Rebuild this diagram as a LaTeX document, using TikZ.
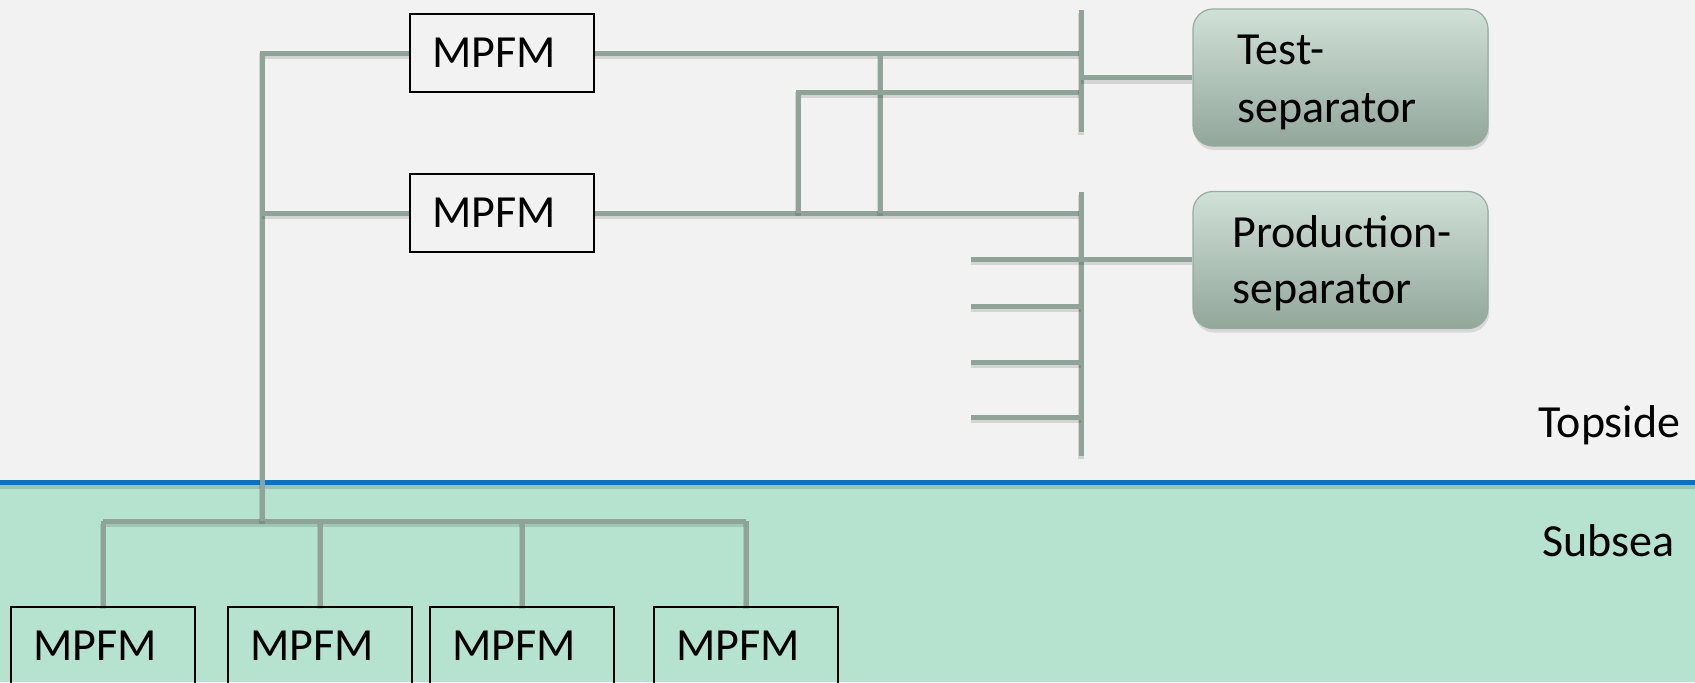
\documentclass[tikz,border=0pt]{standalone}
\usepackage{fontspec}
\setmainfont{Carlito}
\usetikzlibrary{shadows}
\definecolor{pipe}{RGB}{143,163,152}
\definecolor{topbg}{RGB}{242,242,242}
\definecolor{seabg}{RGB}{181,227,208}
\definecolor{surface}{RGB}{16,112,192}
\definecolor{septop}{RGB}{208,225,215}
\definecolor{sepbot}{RGB}{146,166,154}
\definecolor{sepline}{RGB}{150,172,160}
\begin{document}
\begin{tikzpicture}[x=0.5pt,y=-0.5pt,
  pipe/.style={draw=pipe, line width=2.5pt,
    preaction={draw=black, draw opacity=0.12, line width=3pt,
      transform canvas={yshift=-1.6pt}}},
  meter/.style={draw=black, line width=0.75pt, text width=70pt,
    inner xsep=11pt, minimum height=39pt, align=left,
    font=\fontsize{23}{28}\selectfont},
  separator/.style={draw=sepline, line width=0.6pt, rounded corners=10pt,
    top color=septop, bottom color=sepbot,
    minimum width=147.5pt, minimum height=68.5pt,
    drop shadow={opacity=0.22, shadow xshift=0.6pt, shadow yshift=-2pt}},
  caption/.style={anchor=base west, inner sep=0pt,
    font=\fontsize{23}{28}\selectfont},
]
\useasboundingbox (0,0) rectangle (1695,682);
\clip (0,0) rectangle (1695,682);

% topside and subsea areas with the sea surface between them
\fill[topbg] (0,0) rectangle (1695,482);
\fill[seabg] (0,482) rectangle (1695,682);
\draw[black, draw opacity=0.15, line width=2pt] (0,486.5) -- (1695,486.5);
\draw[surface, line width=2.5pt] (0,482) -- (1695,482);

% meters
\node[meter] (m1) at (502,53) {MPFM};
\node[meter] (m2) at (502,213) {MPFM};
\node[meter] (s1) at (103,646) {MPFM};
\node[meter] (s2) at (320,646) {MPFM};
\node[meter] (s3) at (522,646) {MPFM};
\node[meter] (s4) at (746,646) {MPFM};

% separators
\node[separator] (ts) at (1340.5,77.5) {};
\node[separator] (ps) at (1340.5,260) {};
\node[caption] (tsA) at (1237,64) {Test-};
\node[caption] (tsB) at (1237,122) {separator};
\node[caption] (psA) at (1232,247) {Production-};
\node[caption] (psB) at (1232,303) {separator};

% zone labels
\node[caption] (topl) at (1538,437) {Topside};
\node[caption] (subl) at (1542,556) {Subsea};

% junction points
\coordinate (trunkTop) at (262,53);
\coordinate (trunkMid) at (262,213);
\coordinate (trunkBot) at (262,521);
\coordinate (hdrL) at (103,521);
\coordinate (hdrR) at (746,521);
\coordinate (bus1T) at (1081,10);
\coordinate (bus1B) at (1081,132);
\coordinate (bus2T) at (1081,192);
\coordinate (bus2B) at (1081,456);
\coordinate (x1T) at (880,53);
\coordinate (x1B) at (880,213);
\coordinate (x2B) at (798,213);
\coordinate (x2T) at (798,92);
\coordinate (stub1) at (971,259);
\coordinate (stub2) at (971,306);
\coordinate (stub3) at (971,362);
\coordinate (stub4) at (971,417);

% subsea gathering
\draw[pipe] (hdrL) -- (hdrR);
\draw[pipe] (hdrL) -- (s1.north);
\draw[pipe] (s2.north |- hdrL) -- (s2.north);
\draw[pipe] (s3.north |- hdrL) -- (s3.north);
\draw[pipe] (hdrR) -- (s4.north);

% riser and topside meters
\draw[pipe] (m1.west) -- (trunkTop) -- (trunkBot);
\draw[pipe] (trunkMid) -- (m2.west);
\draw[pipe] (m1.east) -- (bus1T |- m1.east);
\draw[pipe] (m2.east) -- (bus2T |- m2.east);
\draw[pipe] (x1T) -- (x1B);
\draw[pipe] (x2B) -- (x2T) -- (bus1T |- x2T);

% test manifold
\draw[pipe] (bus1T) -- (bus1B);
\draw[pipe] (bus1T |- ts.west) -- (ts.west);

% production manifold
\draw[pipe] (bus2T) -- (bus2B);
\draw[pipe] (stub1) -- (ps.west |- stub1);
\draw[pipe] (stub2) -- (bus2T |- stub2);
\draw[pipe] (stub3) -- (bus2T |- stub3);
\draw[pipe] (stub4) -- (bus2T |- stub4);
\end{tikzpicture}
\end{document}
